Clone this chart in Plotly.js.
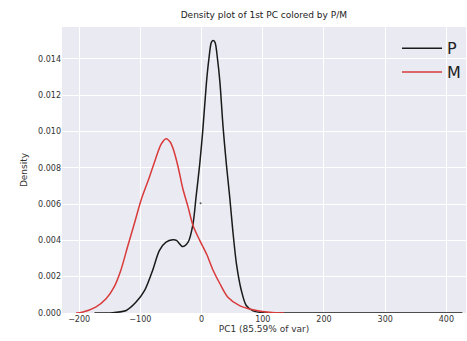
<!DOCTYPE html>
<html>
<head>
<meta charset="utf-8">
<script src="https://cdn.plot.ly/plotly-3.0.1.min.js"></script>
<style>html,body{margin:0;padding:0;background:#fff}#chart{width:467px;height:341px}</style>
</head>
<body>
<div id="chart"></div>
<script>
// P series (density of PC1)
const pX = [-175, -160, -145, -123, -107, -93, -80, -69, -58, -47, -41, -31, -22, -14, -9, -3, 2, 8, 12, 16, 19, 22, 26, 30, 35, 40.5, 46, 51, 57, 65, 73, 84, 100, 130, 200, 300, 426];
const pY = [0, 0.000005, 0.00002, 0.00014, 0.0006, 0.00124, 0.00234, 0.00344, 0.0039, 0.00403, 0.004, 0.00366, 0.0039, 0.0049, 0.00638, 0.0082, 0.01006, 0.0127, 0.0140, 0.0149, 0.0150, 0.0149, 0.0140, 0.0127, 0.0103, 0.0082, 0.00638, 0.00455, 0.00271, 0.00124, 0.00041, 0.00012, 0.00002, 0, 0, 0, 0];
// M series
const mX = [-205, -195, -173, -156, -143, -132, -121, -110, -99, -85, -75, -66, -58, -51, -45, -38, -31, -22, -14, -3, 8, 19, 30, 43, 62, 84, 111, 135];
const mY = [0, 0.00004, 0.00032, 0.00078, 0.00142, 0.00234, 0.00363, 0.0049, 0.0062, 0.0075, 0.0085, 0.0093, 0.0096, 0.0094, 0.0089, 0.0080, 0.0069, 0.00583, 0.00482, 0.004, 0.00326, 0.00234, 0.00161, 0.00087, 0.00041, 0.00018, 0.00004, 0];
// stray dot seen in the figure
const dotX = [-1.6];
const dotY = [0.00605];
const xTicks = [-200, -100, 0, 100, 200, 300, 400];
const yTicks = [0, 0.002, 0.004, 0.006, 0.008, 0.010, 0.012, 0.014];

const font = {family: 'DejaVu Sans, sans-serif', size: 8, color: '#333'};
const traces = [
  {x: pX, y: pY, name: 'P', mode: 'lines', line: {color: '#1a1a1a', width: 1.5, shape: 'spline', smoothing: 0.8}},
  {x: mX, y: mY, name: 'M', mode: 'lines', line: {color: '#d93a3a', width: 1.5, shape: 'spline', smoothing: 0.8}},
  {x: dotX, y: dotY, mode: 'markers', showlegend: false, marker: {color: '#555', size: 2}}
];
const layout = {
  width: 467, height: 341,
  margin: {l: 62, r: 1, t: 27, b: 28},
  paper_bgcolor: '#ffffff', plot_bgcolor: '#eaeaf2',
  font: font,
  title: {text: 'Density plot of 1st PC colored by P/M', font: {family: 'DejaVu Sans, sans-serif', size: 9, color: '#222'}, x: 0.565, xanchor: 'center', y: 0.955, yanchor: 'middle'},
  xaxis: {range: [-228, 432], tickvals: xTicks, ticktext: xTicks.map(v => v < 0 ? '\u2212' + Math.abs(v) : String(v)),
    gridcolor: '#ffffff', gridwidth: 1, zeroline: false, showline: false, ticks: '', ticklen: 0,
    title: {text: 'PC1 (85.59% of var)', font: {family: 'DejaVu Sans, sans-serif', size: 9, color: '#333'}, standoff: 2}},
  yaxis: {range: [0, 0.01575], tickvals: yTicks, ticktext: yTicks.map(v => v.toFixed(3)),
    gridcolor: '#ffffff', gridwidth: 1, zeroline: false, showline: false, ticks: '', ticklen: 0,
    title: {text: 'Density', font: {family: 'DejaVu Sans, sans-serif', size: 9, color: '#333'}, standoff: 8}},
  showlegend: true,
  legend: {x: 1, xanchor: 'right', y: 0.985, yanchor: 'top', bgcolor: 'rgba(0,0,0,0)', font: {family: 'DejaVu Sans, sans-serif', size: 16, color: '#222'}, itemwidth: 40, tracegroupgap: 0}
};
Plotly.newPlot('chart', traces, layout, {displayModeBar: false, staticPlot: true});
</script>
</body>
</html>
